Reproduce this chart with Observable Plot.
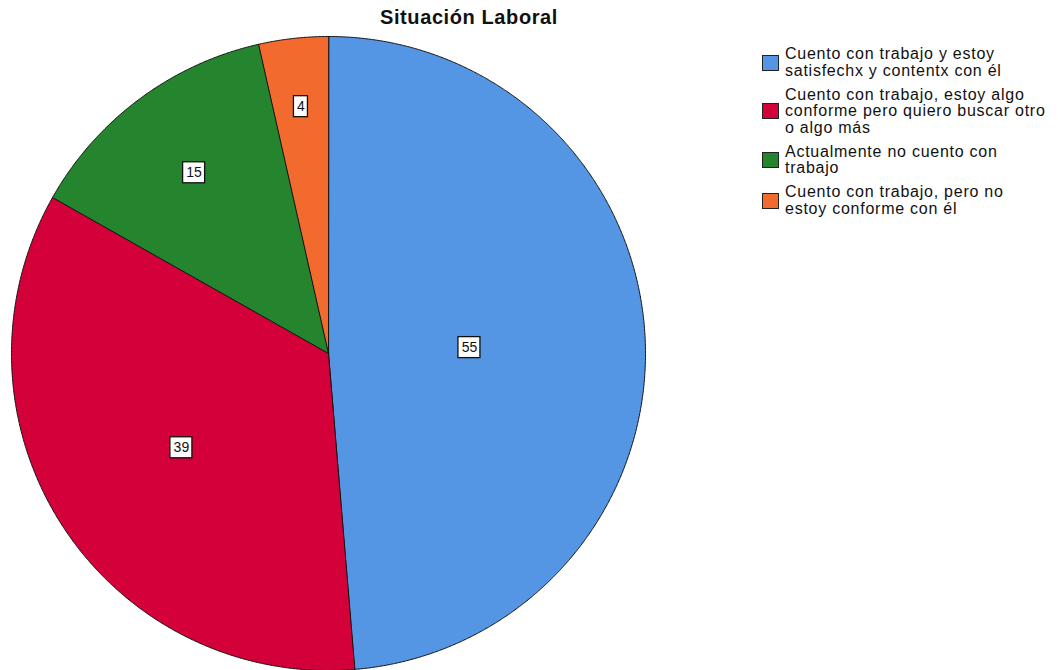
<!DOCTYPE html>
<html><head><meta charset="utf-8">
<script src="https://cdn.jsdelivr.net/npm/d3@7"></script>
<script src="https://cdn.jsdelivr.net/npm/@observablehq/plot@0.6"></script>
<style>
html,body{margin:0;padding:0;background:#fff;}
#wrap{position:relative;width:1058px;height:670px;overflow:hidden;font-family:Arial,"Liberation Sans",sans-serif;}
#chart{position:absolute;left:0;top:0;}
#title{position:absolute;left:319px;top:5px;width:300px;text-align:center;font-weight:bold;font-size:20px;line-height:24px;letter-spacing:0.6px;color:#111;}
#legend{position:absolute;left:762px;top:46px;}
.item{display:flex;align-items:center;margin-bottom:7.5px;}
.sw{width:15px;height:14px;border:1px solid #222;flex:none;margin-right:6px;}
.lab{font-size:16px;line-height:16.5px;color:#111;letter-spacing:0.75px;white-space:pre;}
</style></head>
<body><div id="wrap"><div id="chart"></div><div id="title"></div><div id="legend"></div></div>
<script>
const title = "Situación Laboral";
const categories = [
  "Cuento con trabajo y estoy\nsatisfechx y contentx con él",
  "Cuento con trabajo, estoy algo\nconforme pero quiero buscar otro\no algo más",
  "Actualmente no cuento con\ntrabajo",
  "Cuento con trabajo, pero no\nestoy conforme con él"
];
const values = [55, 39, 15, 4];
const colors = ["#5596E4", "#D3003A", "#24852E", "#F26A2E"];

const W = 1058, H = 670, cx = 328, cy = 353, R = 317;
const total = d3.sum(values);
let acc = 0;
const slices = values.map((v, i) => {
  const a0 = acc / total * 2 * Math.PI;
  acc += v;
  const a1 = acc / total * 2 * Math.PI;
  return {cat: categories[i], value: v, color: colors[i], a0, a1};
});
function arcPoints(s) {
  const pts = [{x: 0, y: 0}];
  const n = Math.max(2, Math.ceil((s.a1 - s.a0) / (Math.PI / 720)));
  for (let k = 0; k <= n; k++) {
    const a = s.a0 + (s.a1 - s.a0) * k / n;
    pts.push({x: Math.sin(a), y: Math.cos(a)});
  }
  return pts;
}
const labels = slices.map(s => {
  const m = (s.a0 + s.a1) / 2;
  const frac = s.value / total;
  const r = 0.81 - 0.75 * frac;
  return {x: r * Math.sin(m), y: r * Math.cos(m), text: String(s.value)};
});
const px = 1 / R;
const boxes = labels.map(l => {
  const w = (l.text.length * 8 + 6) * px, h = 21 * px;
  return {x1: l.x - w / 2, x2: l.x + w / 2, y1: l.y - h / 2, y2: l.y + h / 2};
});

const marks = [];
slices.forEach(s => {
  marks.push(Plot.line(arcPoints(s), {x: "x", y: "y", fill: s.color, stroke: "#111", strokeWidth: 1, curve: "linear-closed"}));
});
marks.push(Plot.rect(boxes, {x1: "x1", x2: "x2", y1: "y1", y2: "y2", fill: "white", stroke: "#111", strokeWidth: 1.3}));
marks.push(Plot.text(labels, {x: "x", y: "y", text: "text", fontSize: 14, fill: "#111", fontFamily: "Arial, Liberation Sans, sans-serif"}));

const plot = Plot.plot({
  width: W, height: H,
  margin: 0,
  x: {domain: [-cx / R, (W - cx) / R], range: [0, W], axis: null},
  y: {domain: [-(H - cy) / R, cy / R], range: [H, 0], axis: null},
  marks
});
document.getElementById("chart").appendChild(plot);
document.getElementById("title").textContent = title;
const leg = document.getElementById("legend");
categories.forEach((c, i) => {
  const it = document.createElement("div"); it.className = "item";
  const sw = document.createElement("div"); sw.className = "sw"; sw.style.background = colors[i];
  const lb = document.createElement("div"); lb.className = "lab"; lb.textContent = c;
  it.appendChild(sw); it.appendChild(lb); leg.appendChild(it);
});
</script></body></html>
